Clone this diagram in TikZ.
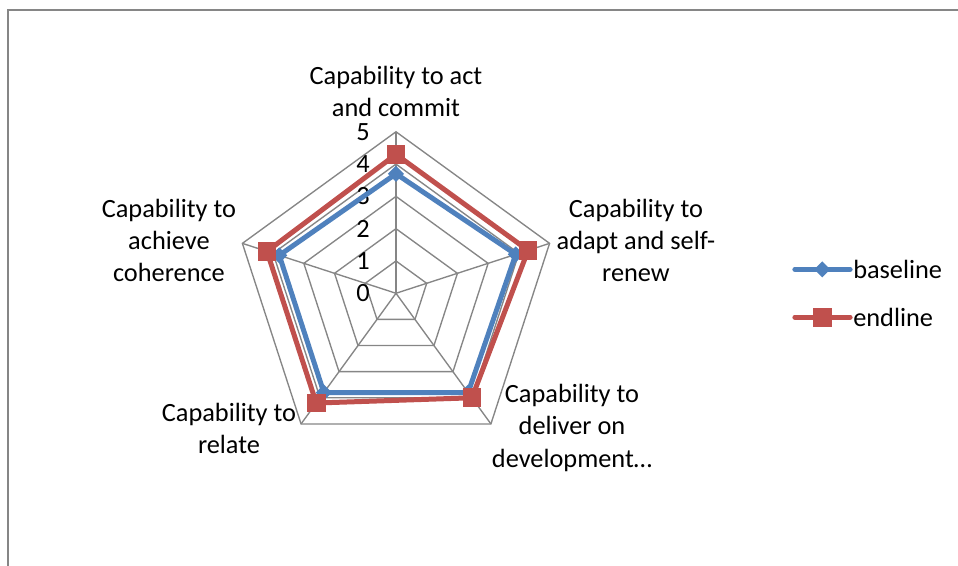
\documentclass[tikz,border=0pt]{standalone}
\usepackage{fontspec}
\setmainfont{Carlito}
\definecolor{baseblue}{HTML}{4F81BD}
\definecolor{endred}{HTML}{C0504D}
\definecolor{gridgray}{HTML}{868686}
\begin{document}
\begin{tikzpicture}[
  grid/.style={draw=gridgray,line width=1.2pt},
  series/.style={line width=4.4pt,line join=round},
  diamondmark/.style={fill=baseblue,inner sep=0pt,minimum size=10pt,rotate=45},
  squaremark/.style={fill=endred,inner sep=0pt,minimum size=16.5pt},
  lbl/.style={align=center,font=\fontsize{23.2}{28.2}\selectfont},
  tick/.style={font=\fontsize{23.2}{28.2}\selectfont,inner sep=0pt}
]
\useasboundingbox (-12.26,-8.44) rectangle (17.4,9.08);
% outer frame
\draw[gridgray,line width=1.6pt] (-12.01,-8.44) -- (-12.01,8.77) -- (17.4,8.77);
% grid
\draw[grid] (90:1) -- (18:1) -- (-54:1) -- (-126:1) -- (162:1) -- cycle;
\draw[grid] (90:2) -- (18:2) -- (-54:2) -- (-126:2) -- (162:2) -- cycle;
\draw[grid] (90:3) -- (18:3) -- (-54:3) -- (-126:3) -- (162:3) -- cycle;
\draw[grid] (90:4) -- (18:4) -- (-54:4) -- (-126:4) -- (162:4) -- cycle;
\draw[grid] (90:5) -- (18:5) -- (-54:5) -- (-126:5) -- (162:5) -- cycle;
\coordinate (O) at (0,0);
\draw[grid] (O) -- (90:5);
\draw[grid] (O) -- (18:5);
\draw[grid] (O) -- (-54:5);
\draw[grid] (O) -- (-126:5);
\draw[grid] (O) -- (162:5);
% axis values
\node[tick] (t0) at (-1.02,0) {0};
\node[tick] (t1) at (-1.02,1) {1};
\node[tick] (t2) at (-1.02,2) {2};
\node[tick] (t3) at (-1.02,3) {3};
\node[tick] (t4) at (-1.02,4) {4};
\node[tick] (t5) at (-1.02,5) {5};
% categories
\node[lbl] (act) at (0,6.26) {Capability to act\\and commit};
\node[lbl] (adapt) at (7.43,1.65) {Capability to\\adapt and self-\\renew};
\node[lbl] (deliver) at (5.45,-4.17) {Capability to\\deliver on\\development\ldots};
\node[lbl] (relate) at (-5.17,-4.2) {Capability to\\relate};
\node[lbl] (cohere) at (-7.03,1.65) {Capability to\\achieve\\coherence};
% baseline
\coordinate (b1) at (90:3.7);
\coordinate (b2) at (18:3.9);
\coordinate (b3) at (-54:3.8);
\coordinate (b4) at (-126:3.8);
\coordinate (b5) at (162:3.8);
\draw[series,baseblue] (b1) -- (b2) -- (b3) -- (b4) -- (b5) -- cycle;
\node[diamondmark] (bm1) at (b1) {};
\node[diamondmark] (bm2) at (b2) {};
\node[diamondmark] (bm3) at (b3) {};
\node[diamondmark] (bm4) at (b4) {};
\node[diamondmark] (bm5) at (b5) {};
% endline
\coordinate (e1) at (90:4.3);
\coordinate (e2) at (18:4.3);
\coordinate (e3) at (-54:4.0);
\coordinate (e4) at (-126:4.2);
\coordinate (e5) at (162:4.2);
\draw[series,endred] (e1) -- (e2) -- (e3) -- (e4) -- (e5) -- cycle;
\node[squaremark] (em1) at (e1) {};
\node[squaremark] (em2) at (e2) {};
\node[squaremark] (em3) at (e3) {};
\node[squaremark] (em4) at (e4) {};
\node[squaremark] (em5) at (e5) {};
% legend
\coordinate (lb1) at (12.35,0.74);
\coordinate (lb2) at (14.06,0.74);
\draw[series,baseblue,line cap=round] (lb1) -- (lb2);
\node[diamondmark] (lbm) at (13.2,0.74) {};
\node[lbl,anchor=west,inner sep=0pt] (lbt) at (14.15,0.74) {baseline};
\coordinate (le1) at (12.35,-0.74);
\coordinate (le2) at (14.06,-0.74);
\draw[series,endred,line cap=round] (le1) -- (le2);
\node[squaremark] (lem) at (13.2,-0.74) {};
\node[lbl,anchor=west,inner sep=0pt] (let) at (14.15,-0.74) {endline};
\end{tikzpicture}
\end{document}
